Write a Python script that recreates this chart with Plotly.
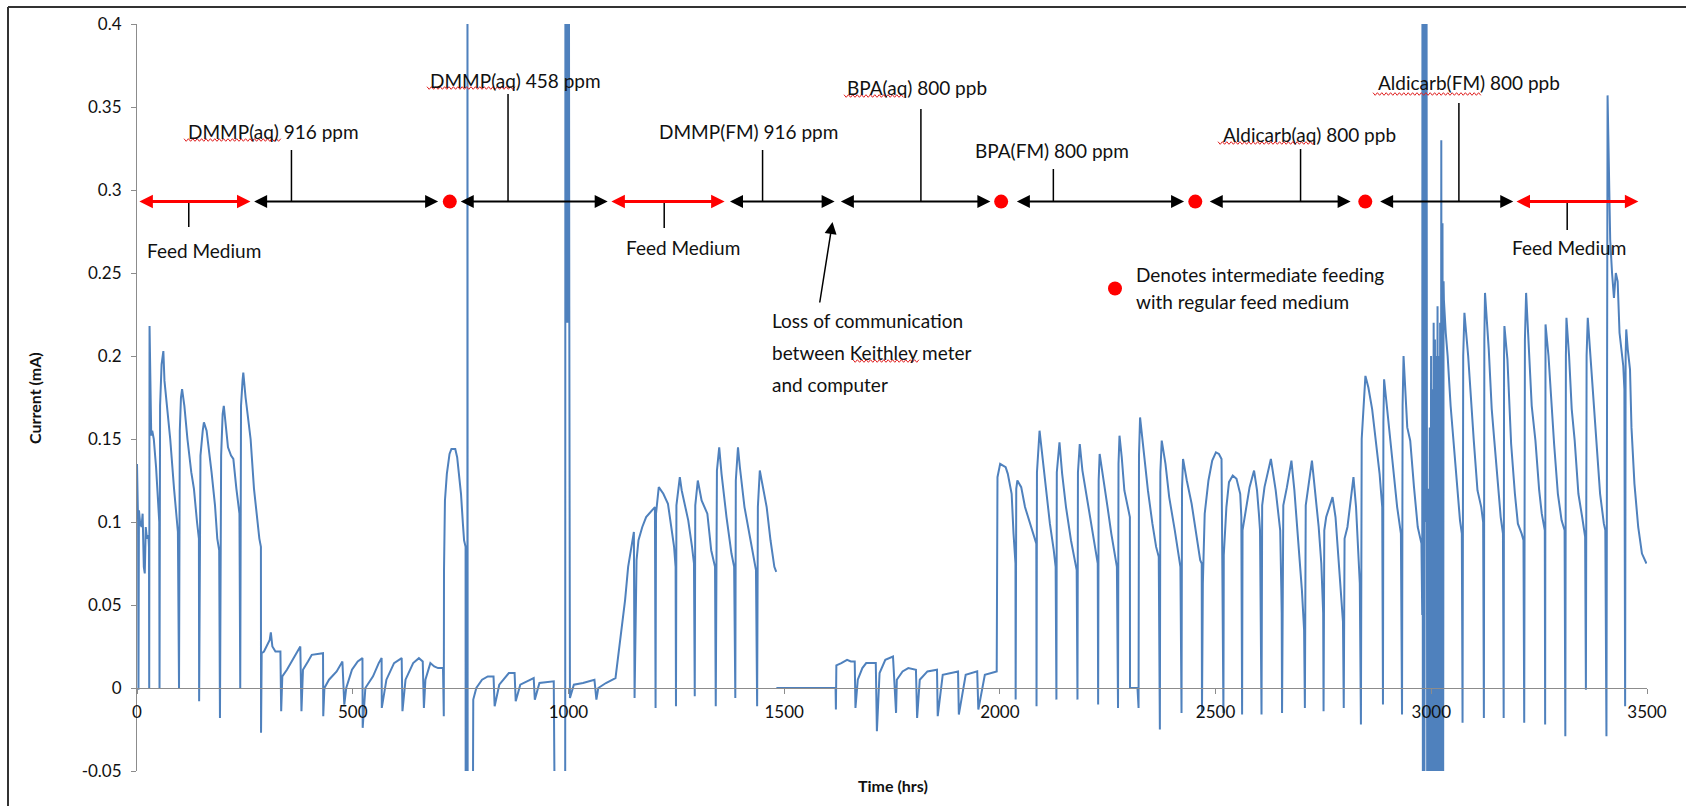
import plotly.graph_objects as go

# ---------------------------------------------------------------------------
# Measured cell current (mA) against elapsed time (hrs), one list of
# (hour, current) pairs per stretch of the run.
# ---------------------------------------------------------------------------
run_a = [(0, 0.135), (2.5, 0.1), (3.4, -0.001), (4.5, 0.107), (7, 0.1), (10.5, 0.097), (13, 0.105),
         (15.8, 0.073), (18, 0.069), (20.3, 0.097), (23, 0.09), (26.5, 0.092), (27.8, 0.085), (28.3, 0.0),
         (29.1, 0.218), (30.9, 0.164), (33, 0.152), (35.3, 0.155), (38.9, 0.15), (44.2, 0.133), (46.9, 0.121),
         (49.5, 0.105), (51.6, 0.1), (52.2, 0.0),
         (53.5, 0.17), (57, 0.195), (59.3, 0.2), (61.1, 0.203), (63.7, 0.185), (69.9, 0.17), (77, 0.15),
         (85.9, 0.12), (92.1, 0.1), (94.8, 0.094), (97.4, 0.0),
         (99.2, 0.155), (101.9, 0.175), (104.5, 0.18), (109.8, 0.17), (116.9, 0.15), (125.8, 0.13), (132, 0.12),
         (139.1, 0.1), (143.5, 0.09), (144, -0.008),
         (147.1, 0.14), (152.4, 0.155), (155.1, 0.16), (161.3, 0.155), (168.4, 0.14), (172.8, 0.13), (180.8, 0.11),
         (186.1, 0.09), (190.5, 0.083), (192.3, -0.018),
         (195, 0.14), (198.5, 0.165), (201.2, 0.17), (205.6, 0.16), (210.9, 0.145), (218, 0.14), (223.3, 0.138),
         (230.4, 0.12), (237.5, 0.105), (239.3, 0.0),
         (241.1, 0.17), (244.6, 0.185), (246.4, 0.19), (251.7, 0.175), (257, 0.163), (263.3, 0.15), (271.2, 0.12),
         (278.3, 0.1), (283.6, 0.09), (287.2, 0.085)]

run_b = [(287.5, -0.027), (289, 0.021), (294.3, 0.022), (300.5, 0.025), (307.6, 0.029), (310.2, 0.0335),
         (313.8, 0.025), (320.9, 0.022), (332.4, 0.022), (334.2, -0.014), (336.8, 0.007), (347.5, 0.011),
         (369.7, 0.021), (378.5, 0.025), (381.2, -0.014), (384.7, 0.011), (396.3, 0.016), (405.1, 0.02),
         (431.2, 0.021), (431.7, -0.017), (434.4, 0.0), (445, 0.005), (462.8, 0.01), (476.1, 0.016),
         (480.5, -0.01), (485, 0.0), (498.3, 0.011), (511.6, 0.016), (522.6, 0.018), (523.1, -0.024),
         (529.3, 0.0), (547.1, 0.007), (560.3, 0.015), (567, 0.018), (567.4, -0.012), (578.1, 0.005),
         (595.8, 0.015), (613.5, 0.018), (615.3, -0.014), (622.4, 0.005), (640.1, 0.015), (653.4, 0.018),
         (662.3, 0.016), (665, -0.012), (668.5, 0.005), (680, 0.015), (688.9, 0.013), (697.8, 0.012),
         (709.3, 0.012), (711.1, -0.017), (711.6, 0.071), (713.8, 0.113), (718.2, 0.129), (724.4, 0.141),
         (728.8, 0.144), (737.7, 0.144), (742.1, 0.139), (746.5, 0.129), (751, 0.117), (755.4, 0.099),
         (758.1, 0.089), (761.6, 0.085), (761.8, -0.08), (765.8, -0.08), (766, 0.48), (766.4, -0.08),
         (778.5, -0.08), (779.4, -0.007)]

run_c = [(786.5, 0.0), (799.8, 0.005), (813.1, 0.007), (826.4, 0.007), (829, -0.011), (839.7, 0.002),
         (861.9, 0.009), (875.2, 0.009), (877.8, -0.008), (888.4, 0.002), (919.5, 0.006), (922.1, -0.007),
         (932.8, 0.003), (963.8, 0.004), (966, 0.004), (968.3, -0.08), (992.5, -0.08), (993, 0.48),
         (994, 0.23), (995, 0.48), (996, 0.22), (997, 0.48), (998, 0.24), (999, 0.48), (1000, 0.22),
         (1001, 0.48), (1002, 0.23), (1003.5, -0.006), (1012.6, 0.002), (1033.7, 0.003), (1060.3, 0.005),
         (1064.8, -0.007)]

run_d = [(1069.2, 0.0), (1087, 0.003), (1109.1, 0.006), (1112, 0.012), (1118, 0.025), (1125, 0.038),
         (1131.3, 0.053), (1138.4, 0.073), (1144.6, 0.083), (1151.7, 0.094), (1153.3, -0.006),
         (1157.9, 0.077), (1162.4, 0.089), (1171.2, 0.097), (1180.1, 0.103), (1193.4, 0.107),
         (1200.5, 0.109), (1202, -0.012),
         (1203, 0.105), (1209.4, 0.121), (1220, 0.117), (1230.7, 0.111), (1237.8, 0.097), (1244.9, 0.085),
         (1248.4, 0.073), (1249.3, -0.011),
         (1250.3, 0.11), (1258.2, 0.127), (1262.6, 0.119), (1268.8, 0.111), (1277.7, 0.101), (1286.5, 0.085),
         (1291, 0.075), (1292.8, -0.005),
         (1294, 0.11), (1299.9, 0.125), (1308.7, 0.113), (1322, 0.105), (1330.9, 0.083), (1339.8, 0.073),
         (1341.5, -0.011),
         (1344.2, 0.131), (1349.5, 0.145), (1354.9, 0.129), (1366.4, 0.103), (1377.9, 0.081), (1384.1, 0.073),
         (1386.8, -0.006),
         (1388, 0.125), (1393, 0.145), (1397.4, 0.133), (1408.1, 0.109), (1424, 0.085), (1434.7, 0.071),
         (1437.4, -0.011),
         (1439.1, 0.109), (1443.6, 0.131), (1450.7, 0.121), (1459.5, 0.109), (1468.4, 0.089), (1477.3, 0.073),
         (1481.7, 0.07)]

run_e = [(1482, 0.0), (1619.2, 0.0), (1620, -0.013), (1621, 0.0136), (1632.5, 0.015), (1645.8, 0.017),
         (1654.7, 0.016), (1663.6, 0.016), (1665.3, -0.012), (1670.7, 0.005), (1681.3, 0.012), (1690.2, 0.015),
         (1712.4, 0.015), (1715, -0.026), (1721.2, 0.009), (1734.5, 0.017), (1752.3, 0.019), (1759.4, -0.015),
         (1761.2, 0.005), (1774.5, 0.01), (1787.8, 0.012), (1805.5, 0.011), (1808.2, -0.018), (1814.4, 0.005),
         (1832.1, 0.01), (1854.3, 0.011), (1856, -0.017), (1867.6, 0.008), (1903.1, 0.01), (1904.9, -0.016),
         (1920.8, 0.008), (1947.5, 0.01), (1950.1, -0.013), (1965.2, 0.008), (1992.7, 0.01)]

run_f = [(1994.5, 0.127), (2000.7, 0.135), (2013.4, 0.133), (2018.4, 0.129), (2027.3, 0.117), (2031.7, 0.093),
         (2036.2, 0.075), (2036.6, -0.007),
         (2038, 0.12), (2040.6, 0.125), (2049.5, 0.121), (2058.3, 0.109), (2067.2, 0.101), (2076.1, 0.093),
         (2084.5, 0.087), (2085, -0.011),
         (2086, 0.13), (2092, 0.155), (2098.2, 0.141), (2107.1, 0.119), (2116, 0.099), (2124.9, 0.083),
         (2129.3, 0.073), (2131.1, -0.007),
         (2132, 0.13), (2138.2, 0.148), (2144.4, 0.129), (2153.3, 0.109), (2164.8, 0.089), (2178.1, 0.071),
         (2179.9, -0.007),
         (2181, 0.13), (2185.2, 0.147), (2191.4, 0.131), (2204.7, 0.109), (2218, 0.089), (2226.9, 0.075),
         (2227.8, -0.01),
         (2229, 0.125), (2231.3, 0.141), (2241, 0.125), (2249.6, 0.109), (2258.3, 0.093), (2266.9, 0.079),
         (2271.3, 0.073), (2273.9, -0.012),
         (2275, 0.135), (2277.3, 0.152), (2282.5, 0.139), (2288.6, 0.119), (2297.3, 0.107), (2301.4, 0.103),
         (2301.7, 0.0), (2319, 0.0), (2321.5, -0.012),
         (2322.5, 0.14), (2325, 0.163), (2334.5, 0.139), (2343.2, 0.119), (2353.6, 0.099), (2362.2, 0.085),
         (2368.3, 0.079), (2370.9, -0.025),
         (2372, 0.13), (2375.2, 0.149), (2383.9, 0.135), (2392.5, 0.115), (2405.5, 0.095), (2414.2, 0.081),
         (2418.5, 0.073), (2421.1, -0.015),
         (2422.2, 0.12), (2424.6, 0.138), (2433.3, 0.125), (2444.5, 0.111), (2455.8, 0.093), (2464.4, 0.077),
         (2467.9, 0.075), (2468.5, -0.015),
         (2470.5, 0.063), (2474.8, 0.105), (2483.5, 0.125), (2492.2, 0.137), (2500.8, 0.142), (2507.8, 0.141),
         (2513.8, 0.138), (2518.2, -0.015),
         (2519, 0.08), (2525.1, 0.109), (2531.1, 0.124), (2539.8, 0.128), (2548.5, 0.126), (2557.1, 0.117),
         (2559.7, 0.103), (2561.5, -0.016),
         (2562.5, 0.095), (2570.1, 0.108), (2578.8, 0.121), (2589.2, 0.131), (2596.1, 0.119), (2600.4, 0.105),
         (2603, 0.095), (2606.5, -0.016),
         (2608, 0.11), (2613.4, 0.121), (2628.2, 0.138), (2639.4, 0.119), (2646.4, 0.103), (2649.8, 0.095),
         (2652.4, 0.06), (2653.3, 0.045), (2654.1, -0.015),
         (2657, 0.11), (2665.4, 0.121), (2675.8, 0.137), (2682.7, 0.119), (2689.7, 0.097), (2695.7, 0.073),
         (2700.1, 0.059), (2705.2, 0.035), (2707, -0.012),
         (2709, 0.11), (2713, 0.117), (2723.4, 0.137), (2730.4, 0.119), (2739, 0.097), (2745.1, 0.075),
         (2749.4, 0.045), (2750.3, -0.014),
         (2752, 0.095), (2756.4, 0.103), (2771.1, 0.115), (2778, 0.103), (2784.9, 0.079), (2791, 0.059),
         (2795.3, 0.04), (2797.1, -0.012),
         (2799, 0.09), (2805.7, 0.097), (2819.6, 0.127), (2825.6, 0.109), (2830, 0.089), (2834.3, 0.063),
         (2836.9, -0.022),
         (2838.7, 0.15), (2847.3, 0.188), (2854.2, 0.181), (2862.9, 0.168), (2871.6, 0.149), (2880.2, 0.129),
         (2886.3, 0.109), (2888, -0.01),
         (2889, 0.16), (2890.6, 0.186), (2903.6, 0.153), (2912.3, 0.129), (2920.9, 0.109), (2929.6, 0.093),
         (2932.2, -0.016),
         (2933.5, 0.17), (2935.7, 0.2), (2944.3, 0.157), (2951.2, 0.149), (2959.9, 0.121), (2968.6, 0.097),
         (2977.2, 0.087), (2979, 0.044)]

run_g = [(2979.5, 0.44), (2980.5, -0.08), (2982.5, 0.44), (2984, -0.08), (2986, 0.44), (2987.5, 0.1),
         (2989, 0.44), (2990.5, -0.08), (2993, 0.12), (2995, -0.08), (2996.5, 0.157), (2998, -0.08),
         (2999.5, 0.2), (3001, -0.08), (3002.5, 0.18), (3004, -0.08), (3005.5, 0.22), (3007, -0.08),
         (3008.5, 0.21), (3010, -0.08), (3011.5, 0.2), (3013, -0.08), (3014.5, 0.23), (3016, -0.08),
         (3017.5, 0.2), (3019, -0.08), (3020.5, 0.22), (3022, -0.08), (3023.2, 0.33), (3024.5, -0.08),
         (3026, 0.28), (3027.5, -0.08), (3028.5, 0.245)]

run_h = [(3029.2, 0.234), (3033.5, 0.214), (3037.9, 0.2), (3044.8, 0.17), (3050.9, 0.149), (3059.5, 0.121),
         (3066.5, 0.101), (3070.8, 0.093), (3072.5, -0.021),
         (3074, 0.2), (3076.8, 0.226), (3085.5, 0.2), (3092.4, 0.17), (3098.5, 0.149), (3107.1, 0.119),
         (3115.8, 0.109), (3120.2, 0.1), (3121.9, -0.018),
         (3123, 0.21), (3124.5, 0.238), (3133.2, 0.204), (3140.1, 0.168), (3146.1, 0.149), (3154.8, 0.119),
         (3160.9, 0.103), (3166.1, 0.093), (3167.8, -0.018),
         (3168.7, 0.2), (3169.5, 0.218), (3176.5, 0.198), (3180.8, 0.168), (3185.1, 0.147), (3193.8, 0.117),
         (3200.7, 0.099), (3209.4, 0.093), (3213.7, 0.089), (3215.4, -0.021),
         (3217, 0.21), (3219.8, 0.238), (3226.7, 0.204), (3232.8, 0.17), (3241.4, 0.149), (3250.1, 0.119),
         (3256.1, 0.105), (3263.1, 0.095), (3263.9, -0.022),
         (3264.8, 0.219), (3271.7, 0.2), (3278.7, 0.168), (3284.7, 0.147), (3293.4, 0.117), (3302, 0.101),
         (3309, 0.095), (3310.7, -0.029),
         (3312, 0.2), (3313.3, 0.223), (3319.4, 0.2), (3325.5, 0.168), (3332.4, 0.149), (3341, 0.117),
         (3349.7, 0.103), (3356.6, 0.091), (3358.4, -0.001),
         (3360, 0.2), (3362.7, 0.223), (3368.8, 0.2), (3375.7, 0.17), (3382.6, 0.149), (3391.3, 0.117),
         (3400, 0.099), (3403.4, 0.095), (3406, -0.029),
         (3407.5, 0.3), (3408.6, 0.357), (3410.3, 0.333), (3412.1, 0.3), (3414.7, 0.27), (3419, 0.25),
         (3423.4, 0.235), (3427.7, 0.25), (3432, 0.245), (3436.3, 0.214), (3445, 0.194), (3447.6, 0.18),
         (3449.3, -0.011),
         (3450.5, 0.2), (3451.9, 0.216), (3455.4, 0.204), (3460.6, 0.192), (3464, 0.157), (3470.9, 0.123),
         (3479.6, 0.097), (3488.3, 0.081), (3498.7, 0.075)]

# None marks the logging outage (meter lost contact with the computer)
runs = [run_a, run_b, run_c, run_d, None, run_e, run_f, run_g, run_h]

# Exposure schedule (hours)
phase_names = ["Feed Medium", "DMMP(aq) 916 ppm", "DMMP(aq) 458 ppm", "Feed Medium", "DMMP(FM) 916 ppm",
               "BPA(aq) 800 ppb", "BPA(FM) 800 ppm", "Aldicarb(aq) 800 ppb", "Aldicarb(FM) 800 ppb",
               "Feed Medium"]
phase_start = [2, 268, 747, 1096, 1371, 1628, 2036, 2483, 2878, 3194]
phase_end = [263, 698, 1091, 1362, 1617, 1978, 2427, 2813, 3190, 3480]
refeed_hours = [725, 2003, 2453, 2847]

x_ticks = [0, 500, 1000, 1500, 2000, 2500, 3000, 3500]
x_tick_labels = ["0", "500", "1000", "1500", "2000", "2500", "3000", "3500"]
y_ticks = [-0.05, 0, 0.05, 0.1, 0.15, 0.2, 0.25, 0.3, 0.35, 0.4]
y_tick_labels = ["-0.05", "0", "0.05", "0.1", "0.15", "0.2", "0.25", "0.3", "0.35", "0.4"]

# ---------------------------------------------------------------------------
hours, current = [], []
for run in runs:
    if run is None:
        hours.append(None)
        current.append(None)
        continue
    for h, c in run:
        hours.append(h)
        current.append(c)

W, H = 1686, 806
ML, MR, MT, MB = 137, 39, 24, 35
PW, PH = W - ML - MR, H - MT - MB
Y_MIN, Y_MAX = -0.05, 0.4


def px(x):
    """pixel column -> paper x"""
    return (x - ML) / PW


def py(y):
    """pixel row -> paper y"""
    return (H - MB - y) / PH


FONT = "Lato, 'Open Sans', sans-serif"
TEXT = "#111111"
BLUE = "#4F81BD"
RED = "#FF0000"
AXIS = "#8C8C8C"
TIMELINE = 0.293

fig = go.Figure()
fig.add_trace(go.Scatter(x=hours, y=current, mode="lines", connectgaps=False,
                         line=dict(color=BLUE, width=2), hoverinfo="skip", showlegend=False))

annotations = []
shapes = []

# timeline arrows for each exposure period
for name, a, b in zip(phase_names, phase_start, phase_end):
    feed = name == "Feed Medium"
    col = RED if feed else "#000000"
    size = 0.9 if feed else 1.3
    annotations.append(dict(x=b, y=TIMELINE, ax=a, ay=TIMELINE, xref="x", yref="y", axref="x", ayref="y",
                            text="", showarrow=True, arrowside="end+start",
                            arrowhead=2, startarrowhead=2,
                            arrowwidth=3 if feed else 2,
                            arrowsize=size, startarrowsize=size,
                            arrowcolor=col, standoff=0, startstandoff=0))

# refeeding markers on the timeline
fig.add_trace(go.Scatter(x=refeed_hours, y=[TIMELINE] * len(refeed_hours), mode="markers",
                         marker=dict(color=RED, size=14), hoverinfo="skip", showlegend=False))

# leader lines (hour on the timeline, pixel row of the free end) and label centres (pixels)
leaders = [(120, 227), (358, 150), (860, 94), (1222, 228), (1450, 150), (1817, 109), (2124, 169),
           (2697, 149), (3064, 103), (3315, 230)]
label_pos = [(204, 250), (273, 131), (515, 80), (683, 248), (748, 131), (917, 87), (1052, 150),
             (1309, 134), (1469, 83), (1569, 248)]
for (lx, ly), (tx, ty), name in zip(leaders, label_pos, phase_names):
    shapes.append(dict(type="line", xref="x", yref="paper", x0=lx, x1=lx,
                       y0=(TIMELINE - Y_MIN) / (Y_MAX - Y_MIN), y1=py(ly),
                       line=dict(color="#000000", width=1.5)))
    annotations.append(dict(x=px(tx), y=py(ty), xref="paper", yref="paper", text=name, showarrow=False,
                            xanchor="center", yanchor="middle", font=dict(family=FONT, size=19, color=TEXT)))

# communication-loss note
annotations.append(dict(x=px(832.5), y=py(222), ax=-13, ay=82, xref="paper", yref="paper",
                        axref="pixel", ayref="pixel", text="", showarrow=True, arrowhead=2,
                        arrowwidth=1.5, arrowsize=1.6, arrowcolor="#000000", standoff=0))
for i, line in enumerate(["Loss of communication", "between Keithley meter", "and computer"]):
    annotations.append(dict(x=px(770), y=py(321 + 31.7 * i), xref="paper", yref="paper", text=line,
                            showarrow=False, xanchor="left", yanchor="middle",
                            font=dict(family=FONT, size=19, color=TEXT)))

# key for the red markers
shapes.append(dict(type="circle", xref="paper", yref="paper", x0=px(1108), x1=px(1122),
                   y0=py(295.5), y1=py(281.5), fillcolor=RED, line=dict(width=0)))
for i, line in enumerate(["Denotes intermediate feeding", "with regular feed medium"]):
    annotations.append(dict(x=px(1134), y=py(274 + 27.5 * i), xref="paper", yref="paper", text=line,
                            showarrow=False, xanchor="left", yanchor="middle",
                            font=dict(family=FONT, size=19, color=TEXT)))

# spell-check squiggles under the unrecognised words
squiggles = [(184, 281, 140), (427, 515, 88), (844, 904, 96), (1218, 1316, 143), (1373, 1481, 94),
             (853, 920, 361)]
for x0, x1, yy in squiggles:
    pts = []
    x = x0
    k = 0
    while x <= x1:
        pts.append(f"{px(x):.5f},{py(yy + (1.3 if k % 2 else -1.3)):.5f}")
        x += 2.2
        k += 1
    shapes.append(dict(type="path", xref="paper", yref="paper", path="M" + " L".join(pts),
                       line=dict(color="#E02020", width=1)))

# axis titles
annotations.append(dict(x=px(34), y=py(398), xref="paper", yref="paper", text="<b>Current (mA)</b>",
                        textangle=-90, showarrow=False, xanchor="center", yanchor="middle",
                        font=dict(family=FONT, size=16, color=TEXT)))
annotations.append(dict(x=px(893), y=py(785), xref="paper", yref="paper", text="<b>Time (hrs)</b>",
                        showarrow=False, xanchor="center", yanchor="middle",
                        font=dict(family=FONT, size=16, color=TEXT)))

# outer frame (left and top edges)
shapes.append(dict(type="line", xref="paper", yref="paper", x0=px(8), x1=px(8), y0=py(7), y1=py(H + 5),
                   line=dict(color="#333333", width=2)))
shapes.append(dict(type="line", xref="paper", yref="paper", x0=px(8), x1=px(W + 5), y0=py(7), y1=py(7),
                   line=dict(color="#333333", width=2)))

fig.update_layout(
    width=W, height=H, autosize=False,
    margin=dict(l=ML, r=MR, t=MT, b=MB, pad=0),
    paper_bgcolor="white", plot_bgcolor="white",
    showlegend=False,
    annotations=annotations, shapes=shapes,
    xaxis=dict(range=[0, 3500], showgrid=False, zeroline=False, showline=True, linecolor=AXIS, linewidth=1,
               ticks="outside", ticklen=5, tickcolor=AXIS, tickvals=x_ticks, ticktext=x_tick_labels,
               tickfont=dict(family=FONT, size=17, color=TEXT), anchor="free",
               position=(0 - Y_MIN) / (Y_MAX - Y_MIN), ticklabelstandoff=4),
    yaxis=dict(range=[Y_MIN, Y_MAX], showgrid=False, zeroline=False, showline=True, linecolor=AXIS,
               linewidth=1, ticks="outside", ticklen=5, tickcolor=AXIS, tickvals=y_ticks,
               ticktext=y_tick_labels, tickfont=dict(family=FONT, size=17, color=TEXT),
               ticklabelstandoff=6),
)

fig.write_html("out.html")
